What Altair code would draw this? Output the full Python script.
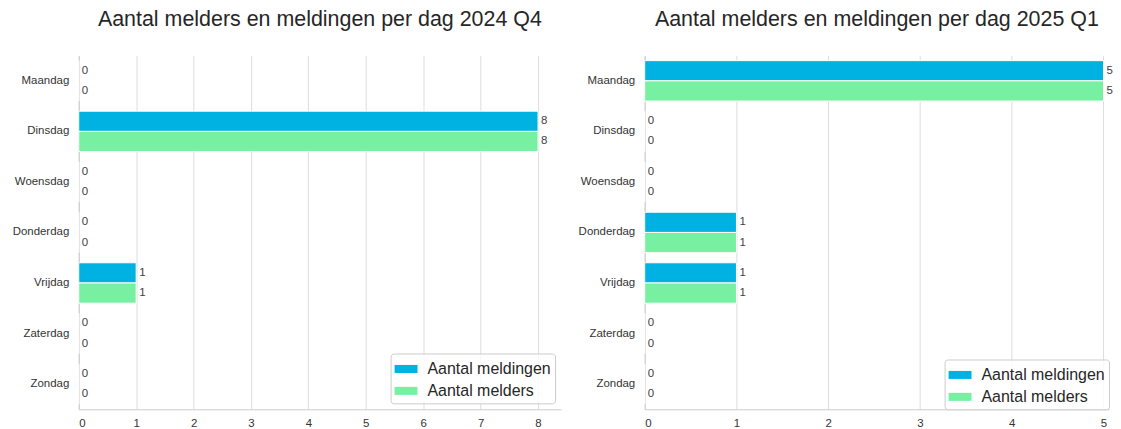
import altair as alt
import pandas as pd

days = ["Maandag", "Dinsdag", "Woensdag", "Donderdag", "Vrijdag", "Zaterdag", "Zondag"]
series = ["Aantal meldingen", "Aantal melders"]
q4_meldingen = [0, 8, 0, 0, 1, 0, 0]
q4_melders = [0, 8, 0, 0, 1, 0, 0]
q1_meldingen = [5, 0, 0, 1, 1, 0, 0]
q1_melders = [5, 0, 0, 1, 1, 0, 0]
titles = ["Aantal melders en meldingen per dag 2024 Q4",
          "Aantal melders en meldingen per dag 2025 Q1"]
x_max = [8.4, 5.06]
ticks = [[0, 1, 2, 3, 4, 5, 6, 7, 8], [0, 1, 2, 3, 4, 5]]
colors = ["#00b2e2", "#78f0a2"]

FONT = "Liberation Sans"


def make_df(a, b):
    rows = []
    for d, v1, v2 in zip(days, a, b):
        rows.append({"dag": d, "serie": series[0], "waarde": v1})
        rows.append({"dag": d, "serie": series[1], "waarde": v2})
    return pd.DataFrame(rows)


def panel(data, title, xmax, tk, width, legend_offset):
    base = alt.Chart(data).encode(
        y=alt.Y("dag:N", sort=days, title=None,
                scale=alt.Scale(paddingInner=0.2, paddingOuter=0.1),
                axis=alt.Axis(labelFontSize=11.5, labelColor="#333333", ticks=False,
                              domainColor="#cccccc", labelPadding=10, minExtent=71,
                              maxExtent=71, grid=False, labelFont=FONT)),
        yOffset=alt.YOffset("serie:N", sort=series),
    )
    x = alt.X("waarde:Q", title=None,
              scale=alt.Scale(domain=[0, xmax], nice=False, zero=True),
              axis=alt.Axis(values=tk, format="d", ticks=False, grid=True,
                            gridColor="#dddddd", domainColor="#cccccc",
                            labelPadding=8, labelFontSize=11.5, labelColor="#333333",
                            labelFont=FONT))
    bars = base.mark_bar(stroke="white", strokeWidth=1).encode(
        x=x,
        color=alt.Color("serie:N", sort=series,
                        scale=alt.Scale(domain=series, range=colors),
                        legend=alt.Legend(title=None, orient="bottom-right",
                                          offset=legend_offset,
                                          symbolType="M-1,-0.35L1,-0.35L1,0.35L-1,0.35Z",
                                          symbolSize=529, symbolStrokeWidth=0,
                                          labelFontSize=16, labelFont=FONT,
                                          labelColor="#262626", labelOffset=10,
                                          fillColor="rgba(255,255,255,0.8)",
                                          strokeColor="#cccccc", cornerRadius=3,
                                          padding=4, rowPadding=2)),
    )
    labels = base.mark_text(align="left", dx=3, baseline="middle", fontSize=11.5,
                            color="#404040", font=FONT).encode(
        x=x, text="waarde:Q")
    return alt.layer(bars, labels).properties(
        width=width, height=355,
        title=alt.Title(title, fontSize=21.5, font=FONT, fontWeight="normal",
                        color="#262626", anchor="middle", offset=25),
    )


left = panel(make_df(q4_meldingen, q4_melders), titles[0], x_max[0], ticks[0], 484, 6)
right = panel(make_df(q1_meldingen, q1_melders), titles[1], x_max[1], ticks[1], 466, 0)

chart = alt.hconcat(left, right, spacing=13).properties(padding=0).configure_view(
    stroke=None).resolve_scale(color="independent", y="independent", x="independent")

chart.save("out.html", embed_options={"renderer": "svg", "actions": False})
